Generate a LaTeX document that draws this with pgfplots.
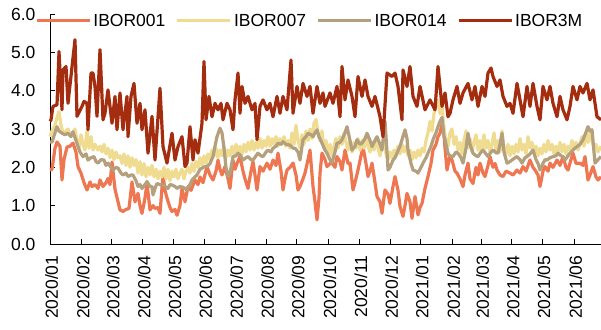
\documentclass[border=0pt]{standalone}
\usepackage{pgfplots}
\pgfplotsset{compat=1.18}
\usepackage{pgfplotstable}
\usepackage{fontspec}
\setmainfont{Liberation Sans}
\definecolor{cO}{RGB}{238,118,80}
\definecolor{cY}{RGB}{240,220,145}
\definecolor{cT}{RGB}{180,160,125}
\definecolor{cR}{RGB}{165,45,15}

\pgfplotstableread{
x y
50 1.93
52 1.95
55 2.50
57 2.66
60 2.55
62 1.67
64 2.20
67 2.53
70 2.55
73 2.63
76 2.40
78 2.02
81 1.85
84 1.60
87 1.41
90 1.62
92 1.50
95 1.55
98 1.45
100 1.67
103 1.50
106 1.60
108 1.71
110 1.55
112 2.14
115 1.43
118 1.10
120 0.89
123 0.85
126 0.90
129 0.93
132 1.62
135 1.10
138 1.32
140 1.00
142 0.80
145 1.20
147 1.58
150 0.89
153 1.00
155 0.93
158 0.95
160 0.80
163 1.80
165 1.40
167 1.20
170 0.95
172 0.85
175 0.90
177 0.75
180 1.00
182 1.45
185 1.10
188 1.50
191 1.40
195 1.67
198 1.55
200 1.75
203 1.60
207 2.02
210 1.80
213 1.67
216 1.90
218 2.19
220 1.95
222 1.80
225 2.02
228 1.70
230 1.45
233 2.19
235 1.95
237 2.10
240 2.28
243 1.90
245 1.70
248 1.45
251 1.90
253 2.15
255 1.80
257 1.41
260 2.02
263 1.90
267 2.11
270 1.95
273 2.19
276 2.05
278 2.37
281 1.90
283 1.41
285 1.70
287 1.93
290 2.00
293 2.11
296 1.80
298 1.41
300 1.50
303 1.70
305 1.85
308 2.20
310 2.45
313 1.50
315 1.10
317 0.63
319 1.20
320 1.85
322 2.37
325 2.20
327 2.02
330 2.10
332 2.11
335 2.00
337 2.28
340 2.15
342 1.93
345 2.45
348 2.10
350 2.11
353 1.41
355 1.60
358 1.93
361 2.30
363 2.54
366 2.10
368 1.76
370 1.90
372 2.11
375 1.60
377 1.24
380 1.10
382 0.80
385 1.41
388 1.30
390 1.06
393 1.50
395 1.76
398 1.40
400 0.98
403 0.72
405 1.00
407 1.32
410 1.10
412 0.67
415 1.24
418 0.76
420 0.95
422 1.06
425 1.45
428 1.76
431 2.10
433 2.45
436 2.60
438 2.80
440 2.89
443 3.24
445 2.50
447 1.93
450 2.30
452 2.19
455 1.90
457 1.85
460 1.70
463 1.50
465 1.80
468 2.11
470 1.70
473 1.58
476 2.00
478 1.80
480 2.11
483 1.85
485 1.76
488 2.05
490 2.28
493 2.00
495 2.10
497 1.93
500 1.80
503 1.76
506 1.90
510 1.85
513 1.80
517 1.93
520 1.85
523 2.02
526 1.90
530 2.19
533 2.00
535 1.93
538 1.80
540 1.50
543 1.90
545 2.02
548 1.90
550 2.11
553 2.00
557 2.19
560 2.05
563 2.28
566 2.00
568 1.93
571 2.20
573 2.37
576 2.10
580 2.11
583 2.05
585 2.28
588 1.67
590 1.80
593 2.02
596 1.75
598 1.67
601 1.75
}\dataO

\pgfplotstableread{
x y
50 2.80
52 2.95
55 3.10
57 3.30
59 3.45
61 3.10
63 2.90
66 2.95
68 3.00
70 2.85
73 2.90
75 3.00
77 2.70
79 2.50
81 2.85
83 2.60
85 2.45
87 2.95
89 2.50
91 2.80
93 2.45
95 2.60
98 2.45
100 2.55
102 2.40
104 2.60
106 2.35
108 2.50
110 2.25
112 2.45
114 2.20
116 2.40
118 2.25
120 2.30
122 2.10
124 2.35
126 2.05
128 2.30
130 2.00
132 2.25
134 2.05
136 2.20
138 1.85
140 2.15
142 1.80
144 2.10
146 1.75
148 2.00
150 1.80
152 2.05
154 1.75
156 1.95
158 1.70
160 1.90
162 1.75
164 2.00
166 1.70
168 1.95
170 1.65
172 1.90
174 1.75
176 1.95
178 1.70
180 1.85
182 1.95
184 1.70
186 1.90
188 2.00
190 1.85
192 2.10
194 1.90
196 2.15
198 2.00
200 2.25
202 2.05
204 2.30
206 2.10
208 2.35
210 2.20
212 2.45
214 2.30
216 2.50
218 2.25
220 2.45
222 2.30
224 2.55
226 2.25
228 2.45
230 2.30
232 2.55
234 2.35
236 2.60
238 2.40
240 2.55
242 2.35
244 2.60
246 2.40
248 2.65
250 2.45
252 2.70
254 2.45
256 2.65
258 2.50
260 2.75
262 2.50
264 2.70
266 2.55
268 2.80
270 2.55
272 2.75
274 2.60
276 2.80
278 2.55
280 2.75
282 2.60
284 2.80
286 2.55
288 2.70
290 2.50
292 2.90
294 2.60
296 3.10
298 2.70
300 2.50
302 2.85
304 2.60
306 2.95
308 2.70
310 3.00
312 2.75
314 3.15
316 3.25
318 2.90
320 2.70
322 2.95
324 2.50
326 2.70
328 2.35
330 2.60
332 2.30
334 2.55
336 2.75
338 2.50
340 2.80
342 2.60
344 2.90
346 2.65
348 2.45
350 2.70
352 2.40
354 2.65
356 2.50
358 2.75
360 2.45
362 2.70
364 2.50
366 2.80
368 2.55
370 2.40
372 2.65
374 2.45
376 2.70
378 2.50
380 2.30
382 2.55
384 2.75
386 2.35
388 2.20
390 2.40
392 2.25
394 2.45
396 2.30
398 2.55
400 2.35
402 2.60
404 2.40
406 2.55
408 2.30
410 2.45
412 2.20
414 2.40
416 2.25
418 2.45
420 2.30
422 2.50
424 2.40
426 2.70
428 2.90
430 3.20
432 2.95
434 3.40
436 3.60
438 3.75
440 3.40
442 3.60
444 3.00
446 2.70
448 2.55
450 2.90
452 3.00
454 2.60
456 2.80
458 2.45
460 2.65
462 2.35
464 2.70
466 2.95
468 2.50
470 2.75
472 2.40
474 2.65
476 2.85
478 2.45
480 2.70
482 2.40
484 2.85
486 2.50
488 2.70
490 2.40
492 2.60
494 2.90
496 2.45
498 2.70
500 2.40
502 2.95
504 2.50
506 2.35
508 2.60
510 2.30
512 2.55
514 2.35
516 2.60
518 2.40
520 2.75
522 2.45
524 2.60
526 2.35
528 2.80
530 2.50
532 2.65
534 2.40
536 2.55
538 2.30
540 2.50
542 2.35
544 2.60
546 2.40
548 2.70
550 2.45
552 2.60
554 2.35
556 2.55
558 2.40
560 2.65
562 2.40
564 2.60
566 2.35
568 2.55
570 2.45
572 2.70
574 2.50
576 2.65
578 2.45
580 2.60
582 2.80
584 2.55
586 2.90
588 2.65
590 2.95
592 2.70
594 2.50
596 2.60
598 2.40
601 2.55
}\dataY

\pgfplotstableread{
x y
50 2.66
52 2.66
55 2.90
57 3.06
59 2.95
62 2.89
65 2.85
68 2.89
71 2.80
73 2.93
76 2.70
78 2.54
80 2.40
83 2.28
86 2.35
88 2.19
91 2.25
94 2.28
96 2.15
98 2.11
101 2.20
104 2.19
106 2.05
108 2.11
111 2.00
113 1.93
116 2.00
118 1.98
121 1.85
123 1.80
126 1.85
128 1.76
131 1.80
133 1.80
136 1.65
138 1.50
140 1.55
142 1.45
145 1.55
147 1.63
150 1.50
152 1.50
153 1.28
155 1.45
157 1.58
160 1.55
163 1.54
165 1.50
168 1.45
170 1.55
172 1.54
175 1.50
177 1.45
180 1.50
183 1.48
185 1.45
187 1.41
190 1.55
192 1.67
195 1.75
197 1.80
200 1.95
202 1.98
205 2.02
207 2.02
210 2.10
213 2.28
215 2.55
217 2.80
220 3.02
222 2.90
224 2.50
226 2.00
228 1.76
230 1.85
233 2.28
236 2.30
238 2.37
241 2.30
243 2.19
246 2.25
248 2.28
251 2.20
253 2.19
256 2.30
258 2.37
261 2.30
263 2.28
266 2.40
268 2.45
271 2.40
273 2.50
276 2.55
278 2.63
281 2.60
283 2.67
286 2.60
290 2.58
293 2.50
295 2.50
298 2.40
300 2.19
303 2.72
306 2.80
308 2.89
311 2.85
313 2.80
315 2.90
317 2.98
319 2.80
322 2.63
325 2.45
327 2.37
330 2.20
332 2.11
335 2.40
337 2.63
340 2.65
342 2.72
345 2.90
347 3.06
350 2.70
352 2.45
355 2.55
357 2.72
360 2.60
362 2.63
365 2.75
367 2.89
370 2.70
372 2.54
375 2.70
377 2.80
380 2.60
382 2.45
385 3.20
387 2.40
388 1.93
390 2.00
393 2.19
395 2.25
397 2.37
400 2.55
402 2.72
405 2.98
407 2.75
408 2.45
411 2.10
413 1.93
416 1.90
418 1.85
421 2.00
423 2.11
426 2.25
428 2.37
431 2.55
433 2.72
436 2.90
438 3.06
440 3.20
442 3.30
444 2.80
445 2.72
448 2.37
450 2.30
453 2.28
456 2.40
458 2.37
461 2.25
463 2.11
466 2.50
468 2.89
470 2.60
473 2.37
476 2.30
478 2.28
481 2.40
483 2.45
486 2.35
488 2.28
491 2.40
493 2.45
496 2.38
498 2.37
500 2.60
502 2.89
504 2.40
507 2.11
510 2.15
512 2.19
515 2.25
517 2.28
520 2.20
522 2.11
525 2.25
527 2.28
530 2.35
533 2.45
536 2.20
538 2.10
540 1.93
543 2.10
545 2.20
547 2.19
550 2.25
553 2.28
556 2.30
558 2.37
561 2.30
563 2.28
565 2.19
568 2.30
570 2.37
573 2.45
575 2.50
577 2.54
580 2.60
583 2.72
585 2.85
588 3.06
590 2.95
592 2.98
594 2.40
595 2.11
598 2.20
601 2.28
}\dataT

\pgfplotstableread{
x y
50 3.20
51 3.24
53 3.59
57 3.63
59 5.02
62 3.50
63 4.54
66 4.63
68 3.67
75 5.33
77 3.33
82 3.59
84 3.72
87 3.67
88 2.98
91 4.46
93 4.46
95 4.11
97 3.33
100 5.07
103 3.24
105 3.41
108 4.02
112 3.15
115 3.85
117 2.98
120 3.94
123 2.98
127 3.85
128 2.80
131 3.85
134 4.19
137 3.15
140 3.67
142 2.98
145 3.50
148 2.37
152 3.33
155 2.19
160 4.06
163 2.54
167 2.11
172 2.89
175 2.19
178 2.54
182 2.80
185 2.02
187 2.11
190 3.06
193 2.19
195 2.72
198 2.37
202 3.15
204 4.76
206 3.24
209 3.85
212 3.32
215 3.67
218 3.50
221 3.67
223 3.24
227 3.67
230 3.50
233 2.98
235 3.76
238 4.46
240 3.41
242 4.11
245 3.67
248 3.85
252 3.50
255 3.67
257 2.72
260 3.59
263 3.76
267 3.50
270 3.67
273 3.32
277 3.85
280 3.41
283 3.85
287 3.50
291 4.80
293 3.41
297 4.11
300 3.67
303 4.19
307 3.85
310 4.11
313 3.41
317 4.11
320 3.67
323 3.94
325 3.59
330 3.94
333 3.67
337 4.11
340 3.32
342 4.63
345 3.76
348 4.28
352 3.85
355 3.32
358 4.37
362 3.85
365 4.28
368 3.85
372 3.59
375 3.85
380 3.32
383 2.80
387 4.46
392 4.37
395 4.46
398 4.11
402 3.24
403 4.54
407 4.11
410 4.63
413 3.85
417 3.59
420 4.11
425 3.50
430 3.76
435 3.50
438 4.63
442 3.59
445 3.94
448 3.32
450 3.41
453 3.76
457 4.11
460 3.67
463 3.94
468 4.19
472 3.76
475 4.11
478 3.59
482 4.11
485 3.85
488 4.46
491 4.59
493 4.37
497 4.11
500 4.28
503 3.85
507 3.59
510 3.67
513 3.41
517 4.19
520 3.76
523 3.32
527 4.11
530 3.59
533 4.19
537 3.59
540 3.24
543 4.11
547 3.76
550 4.11
553 3.67
557 3.32
560 3.85
563 3.50
567 3.24
570 3.59
573 4.11
577 3.76
580 4.11
583 3.94
587 4.19
590 3.76
593 4.02
597 3.32
601 3.24
}\dataR

\begin{document}
\begin{tikzpicture}
\path[use as bounding box] (-50pt,-85pt) rectangle (551pt,244pt);
\begin{axis}[
  at={(0pt,0pt)}, anchor=south west,
  scale only axis, width=551pt, height=230pt,
  xmin=50, xmax=601, ymin=0, ymax=6,
  axis x line=bottom, axis y line=left,
  axis line style={-, black, line width=0.8pt},
  tick align=inside,
  major tick length=5pt,
  tick style={black, line width=0.8pt},
  xtick={50,81.7,111.5,142.5,173.3,204,235,266,296.7,328.3,359.3,390,420.7,452,481,511.7,542.3,574},
  xticklabels={2020/01,2020/02,2020/03,2020/04,2020/05,2020/06,2020/07,2020/08,2020/09,2020/10,2020/11,2020/12,2021/01,2021/02,2021/03,2021/04,2021/05,2021/06},
  xticklabel style={rotate=90, anchor=east, xshift=-8pt, yshift=-1.5pt, font=\fontsize{17.5}{20}\selectfont},
  ytick={0,1,2,3,4,5,6},
  yticklabel style={font=\fontsize{17.5}{20}\selectfont, xshift=-11pt},
  /pgf/number format/assume math mode=true,
  yticklabel={\pgfmathprintnumber[fixed,fixed zerofill,precision=1]{\tick}},
  legend columns=4,
  legend style={at={(rel axis cs:-0.0272,0.97)}, anchor=west, draw=none, fill=none,
    inner sep=0pt, font=\fontsize{17.5}{20}\selectfont,
    /tikz/every even column/.append style={column sep=0.4pt}},
  legend image code/.code={\draw[#1] (0pt,0pt) -- (53pt,0pt);},
  every axis plot/.append style={line width=3.2pt, line join=round},
  clip=false,
]
\addplot[cO] table {\dataO};
\addlegendentry{\makebox[80pt][l]{IBOR001}}
\addplot[cY] table {\dataY};
\addlegendentry{\makebox[80pt][l]{IBOR007}}
\addplot[cT] table {\dataT};
\addlegendentry{\makebox[80pt][l]{IBOR014}}
\addplot[cR] table {\dataR};
\addlegendentry{\makebox[80pt][l]{IBOR3M}}
\end{axis}
\end{tikzpicture}
\end{document}
